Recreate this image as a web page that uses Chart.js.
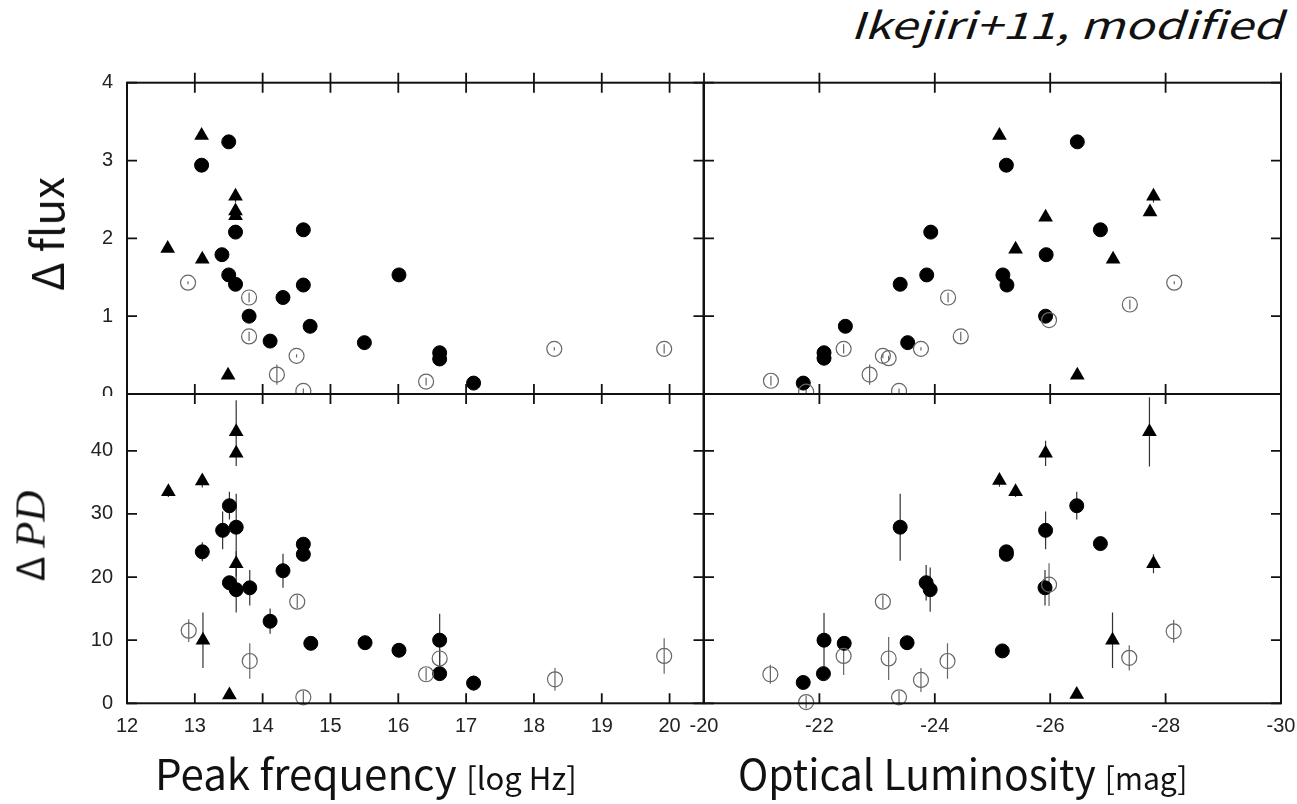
<!DOCTYPE html>
<html>
<head>
<meta charset="utf-8">
<script src="https://cdn.jsdelivr.net/npm/chart.js@4.4.1/dist/chart.umd.min.js"></script>
<style>
  body { margin: 0; background: #fff; }
  #wrap { position: relative; width: 1297px; height: 804px; overflow: hidden; background: #fff; }
  .box { position: absolute; overflow: hidden; }
  .box canvas { position: absolute; left: 0; top: 0; }
  .txt { position: absolute; white-space: nowrap; color: #111; line-height: 1; font-family: 'Noto Sans CJK JP', 'Noto Sans', sans-serif; }
</style>
</head>
<body>
<div id="wrap">
  <div class="box" style="left:0;top:60px;width:716px;height:336px"><canvas id="tl" width="716" height="352"></canvas></div>
  <div class="box" style="left:680px;top:60px;width:617px;height:336px"><canvas id="tr" width="617" height="352"></canvas></div>
  <div class="box" style="left:0;top:380px;width:716px;height:424px"><canvas id="bl" width="716" height="424"></canvas></div>
  <div class="box" style="left:680px;top:380px;width:617px;height:424px"><canvas id="br" width="617" height="424"></canvas></div>

  <div class="txt" id="credit" style="right:14px;top:5px;font-size:37px;font-style:italic;transform-origin:right top">Ikejiri+11, modified</div>
  <div class="txt" style="left:45px;top:234px;font-size:44px;transform:translate(-50%,-50%) rotate(-90deg)">Δ flux</div>
  <div class="txt" style="left:30px;top:536px;font-size:38px;transform:translate(-50%,-50%) rotate(-90deg)">Δ <span style="font-family:'Liberation Serif',serif;font-style:italic;font-size:43px">PD</span></div>
  <div class="txt" id="xt1" style="left:155px;top:751px;font-size:42px;transform-origin:left top">Peak frequency <span style="font-size:31px">[log Hz]</span></div>
  <div class="txt" id="xt2" style="left:738px;top:751px;font-size:42px;transform-origin:left top">Optical Luminosity <span style="font-size:31px">[mag]</span></div>
</div>

<script>
// tick labels
var freqTicks = [12, 13, 14, 15, 16, 17, 18, 19, 20]
var magTicks = [-20, -22, -24, -26, -28, -30]
var fluxTicks = [0, 1, 2, 3, 4]
var pdTicks = [0, 10, 20, 30, 40]

// --- delta flux vs peak frequency ---
var fqFluxFilledX = [13.50, 13.10, 13.60, 14.60, 13.40, 13.50, 13.60, 14.60, 14.30, 16.01, 13.80, 14.70, 14.11, 15.50, 16.61, 16.61, 17.11]
var fqFluxFilledY = [3.24, 2.94, 2.08, 2.11, 1.79, 1.53, 1.41, 1.40, 1.24, 1.53, 1.00, 0.87, 0.68, 0.66, 0.53, 0.45, 0.14]
var fqFluxTriX = [13.10, 13.60, 13.60, 13.60, 12.60, 13.11, 13.49]
var fqFluxTriY = [3.32, 2.54, 2.35, 2.29, 1.87, 1.73, 0.24]
var fqFluxTriErr = [0, 0.08, 0, 0, 0, 0, 0]
var fqFluxOpenX = [12.90, 13.80, 13.80, 14.50, 14.21, 14.60, 16.41, 18.30, 19.92]
var fqFluxOpenY = [1.43, 1.24, 0.74, 0.49, 0.25, 0.04, 0.16, 0.58, 0.58]
var fqFluxOpenErr = [0.02, 0.06, 0.06, 0.02, 0.13, 0.03, 0.05, 0.02, 0.06]

// --- delta flux vs optical luminosity ---
var magFluxFilledX = [-26.47, -25.24, -23.93, -26.87, -25.93, -25.18, -23.86, -23.40, -25.25, -25.92, -22.45, -23.53, -22.08, -22.08, -21.72]
var magFluxFilledY = [3.24, 2.94, 2.08, 2.11, 1.79, 1.53, 1.53, 1.41, 1.40, 1.00, 0.87, 0.66, 0.53, 0.46, 0.14]
var magFluxTriX = [-25.12, -25.92, -25.40, -27.09, -27.79, -27.73, -26.47]
var magFluxTriY = [3.32, 2.27, 1.86, 1.73, 2.54, 2.34, 0.24]
var magFluxTriErr = [0, 0, 0, 0, 0.08, 0, 0]
var magFluxOpenX = [-21.16, -21.77, -22.42, -22.87, -23.10, -23.20, -23.38, -23.76, -24.23, -24.45, -25.98, -27.38, -28.15]
var magFluxOpenY = [0.17, 0.03, 0.58, 0.25, 0.49, 0.46, 0.04, 0.58, 1.24, 0.74, 0.95, 1.15, 1.43]
var magFluxOpenErr = [0.06, 0.02, 0.06, 0.13, 0.03, 0.03, 0.03, 0.02, 0.06, 0.06, 0.02, 0.06, 0.02]

// --- delta PD vs peak frequency ---
var fqPdFilledX = [13.51, 13.41, 13.61, 13.11, 14.60, 14.60, 14.30, 13.51, 13.61, 13.81, 14.11, 14.71, 15.51, 16.01, 16.61, 16.61, 17.11]
var fqPdFilledY = [31.3, 27.4, 27.9, 24.0, 25.2, 23.6, 21.0, 19.1, 18.0, 18.3, 13.0, 9.5, 9.6, 8.4, 10.0, 4.7, 3.2]
var fqPdFilledErr = [2.2, 3.0, 5.3, 1.5, 0, 0, 2.7, 0, 3.6, 2.8, 2.0, 0, 0, 1.0, 4.2, 0, 1.2]
var fqPdTriX = [13.61, 13.61, 13.11, 12.61, 13.61, 13.12, 13.51]
var fqPdTriY = [43.0, 39.6, 35.2, 33.5, 22.1, 10.0, 1.3]
var fqPdTriErr = [5.0, 2.0, 1.0, 0.8, 2.0, 4.4, 0]
var fqPdOpenX = [12.91, 13.81, 14.51, 14.60, 16.41, 16.61, 18.31, 19.92]
var fqPdOpenY = [11.5, 6.7, 16.1, 0.95, 4.6, 7.1, 3.8, 7.5]
var fqPdOpenErr = [1.8, 2.8, 1.0, 1.0, 1.0, 1.5, 1.8, 2.8]

// --- delta PD vs optical luminosity ---
var magPdFilledX = [-26.46, -25.92, -23.40, -26.87, -25.24, -25.24, -23.85, -23.92, -25.91, -22.08, -22.43, -23.52, -25.17, -22.07, -21.72]
var magPdFilledY = [31.3, 27.4, 27.9, 25.3, 24.0, 23.6, 19.1, 18.0, 18.3, 10.0, 9.5, 9.6, 8.3, 4.7, 3.3]
var magPdFilledErr = [2.2, 3.0, 5.3, 0, 1.0, 0, 2.8, 3.5, 2.8, 4.3, 0, 0, 1.0, 0, 1.0]
var magPdTriX = [-27.72, -25.92, -25.12, -25.40, -27.79, -27.08, -26.46]
var magPdTriY = [43.0, 39.6, 35.3, 33.5, 22.1, 10.0, 1.4]
var magPdTriErr = [5.5, 2.0, 1.0, 0.8, 1.5, 4.4, 0]
var magPdOpenX = [-21.15, -21.77, -22.42, -23.10, -23.20, -23.38, -23.76, -24.22, -25.98, -27.37, -28.14]
var magPdOpenY = [4.6, 0.2, 7.5, 16.1, 7.1, 0.95, 3.7, 6.7, 18.8, 7.2, 11.4]
var magPdOpenErr = [1.5, 1.0, 3.0, 1.0, 3.4, 1.0, 1.9, 2.8, 3.4, 2.0, 1.8]

var tickFont = { family: "'Liberation Sans', Arial, sans-serif", size: 20 }

function pts(xs, ys) {
    return xs.map(function (v, i) { return { x: v, y: ys[i] } })
}

// open circles, filled circles, triangles
function sets(openX, openY, openErr, fillX, fillY, fillErr, triX, triY, triErr, clip) {
    return [
        { data: pts(openX, openY), errs: openErr, errColor: '#666', pointStyle: 'circle', pointRadius: 7.5,
          backgroundColor: 'rgba(0,0,0,0)', borderColor: '#666', pointBorderWidth: 1.2, clip: clip },
        { data: pts(fillX, fillY), errs: fillErr, errColor: '#333', pointStyle: 'circle', pointRadius: 7,
          backgroundColor: '#000', borderColor: '#000', pointBorderWidth: 1, clip: clip },
        { data: pts(triX, triY), errs: triErr, errColor: '#333', pointStyle: 'triangle', pointRadius: 8.5,
          backgroundColor: '#000', borderColor: '#000', pointBorderWidth: 0, clip: clip }
    ]
}

var errorBars = {
    id: 'errorBars',
    beforeDatasetsDraw: function (chart) {
        var ctx = chart.ctx
        var xs = chart.scales.x, ys = chart.scales.y
        ctx.save()
        ctx.lineWidth = 1.2
        chart.data.datasets.forEach(function (ds) {
            if (!ds.errs) return
            ctx.strokeStyle = ds.errColor
            ctx.beginPath()
            ds.data.forEach(function (p, i) {
                var e = ds.errs[i]
                if (!e) return
                var px = xs.getPixelForValue(p.x)
                ctx.moveTo(px, ys.getPixelForValue(p.y - e))
                ctx.lineTo(px, ys.getPixelForValue(p.y + e))
            })
            ctx.stroke()
        })
        ctx.restore()
    }
}

// box round the plot with inward ticks
function frame(xTicks, yTicks, outTicks) {
    return {
        id: 'frame',
        afterDraw: function (chart) {
            var ctx = chart.ctx, a = chart.chartArea
            var xs = chart.scales.x, ys = chart.scales.y
            ctx.save()
            ctx.strokeStyle = '#111'
            ctx.lineWidth = 2
            ctx.strokeRect(a.left, a.top, a.right - a.left, a.bottom - a.top)
            ctx.lineWidth = 1.8
            ctx.beginPath()
            xTicks.forEach(function (v) {
                var px = xs.getPixelForValue(v)
                ctx.moveTo(px, a.top); ctx.lineTo(px, a.top + 10)
                ctx.moveTo(px, a.bottom); ctx.lineTo(px, a.bottom - 10)
            })
            outTicks.forEach(function (v) {
                var px = xs.getPixelForValue(v)
                ctx.moveTo(px, a.top); ctx.lineTo(px, a.top - 10)
            })
            yTicks.forEach(function (v) {
                var py = ys.getPixelForValue(v)
                ctx.moveTo(a.left, py); ctx.lineTo(a.left + 10, py)
                ctx.moveTo(a.right, py); ctx.lineTo(a.right - 10, py)
            })
            ctx.stroke()
            ctx.restore()
        }
    }
}

// invisible tick marks only make the gap between axis and labels
function gap(len) {
    return { display: true, drawOnChartArea: false, drawTicks: true, tickLength: len, color: 'rgba(0,0,0,0)' }
}

function panel(id, o) {
    return new Chart(document.getElementById(id), {
        type: 'scatter',
        data: { datasets: o.datasets },
        options: {
            responsive: false,
            animation: false,
            events: [],
            layout: { padding: o.padding, autoPadding: false },
            plugins: { legend: { display: false }, tooltip: { enabled: false } },
            scales: {
                x: {
                    type: 'linear', min: o.xMin, max: o.xMax, reverse: !!o.xReverse,
                    display: o.showX,
                    grid: gap(11), border: { display: false },
                    afterBuildTicks: function (s) { s.ticks = o.xTicks.map(function (v) { return { value: v } }) },
                    afterFit: function (s) { if (o.showX) s.height = 100.7 },
                    ticks: { font: tickFont, color: '#222', padding: 0, maxRotation: 0, autoSkip: false,
                             callback: function (v) { return String(v) } }
                },
                y: {
                    type: 'linear', min: o.yMin, max: o.yMax,
                    display: o.showY,
                    grid: gap(14), border: { display: false },
                    afterBuildTicks: function (s) { s.ticks = o.yTicks.map(function (v) { return { value: v } }) },
                    afterFit: function (s) { if (o.showY) s.width = 127 },
                    ticks: { font: tickFont, color: '#222', padding: 0, autoSkip: false,
                             callback: function (v) { return String(v) } }
                }
            }
        },
        plugins: [errorBars, frame(o.xTicks, o.yTicks, o.outTicks || [])]
    })
}

var topClip = { left: false, right: false, top: false, bottom: 1 }

panel('tl', {
    datasets: sets(fqFluxOpenX, fqFluxOpenY, fqFluxOpenErr, fqFluxFilledX, fqFluxFilledY, null,
                   fqFluxTriX, fqFluxTriY, fqFluxTriErr, topClip),
    padding: { left: 0, top: 22.7, right: 12.5, bottom: 18 },
    xMin: 12, xMax: 20.5, xTicks: freqTicks, showX: false,
    yMin: 0, yMax: 4, yTicks: fluxTicks, showY: true,
    outTicks: freqTicks.slice(1)
})

panel('tr', {
    datasets: sets(magFluxOpenX, magFluxOpenY, magFluxOpenErr, magFluxFilledX, magFluxFilledY, null,
                   magFluxTriX, magFluxTriY, magFluxTriErr, topClip),
    padding: { left: 24, top: 22.7, right: 16, bottom: 18 },
    xMin: -30, xMax: -20, xReverse: true, xTicks: magTicks, showX: false,
    yMin: 0, yMax: 4, yTicks: fluxTicks, showY: false,
    outTicks: magTicks
})

panel('bl', {
    datasets: sets(fqPdOpenX, fqPdOpenY, fqPdOpenErr, fqPdFilledX, fqPdFilledY, fqPdFilledErr,
                   fqPdTriX, fqPdTriY, fqPdTriErr, false),
    padding: { left: 0, top: 14, right: 12.5, bottom: 0 },
    xMin: 12, xMax: 20.5, xTicks: freqTicks, showX: true,
    yMin: 0, yMax: 49, yTicks: pdTicks, showY: true
})

panel('br', {
    datasets: sets(magPdOpenX, magPdOpenY, magPdOpenErr, magPdFilledX, magPdFilledY, magPdFilledErr,
                   magPdTriX, magPdTriY, magPdTriErr, false),
    padding: { left: 24, top: 14, right: 16, bottom: 0 },
    xMin: -30, xMax: -20, xReverse: true, xTicks: magTicks, showX: true,
    yMin: 0, yMax: 49, yTicks: pdTicks, showY: false
})

// stretch the titles to the widths they have in the picture
function fitWidth(id, w) {
    var el = document.getElementById(id)
    el.style.transform = 'scaleX(' + (w / el.offsetWidth) + ')'
}
fitWidth('credit', 433)
fitWidth('xt1', 422)
fitWidth('xt2', 450)
</script>
</body>
</html>
